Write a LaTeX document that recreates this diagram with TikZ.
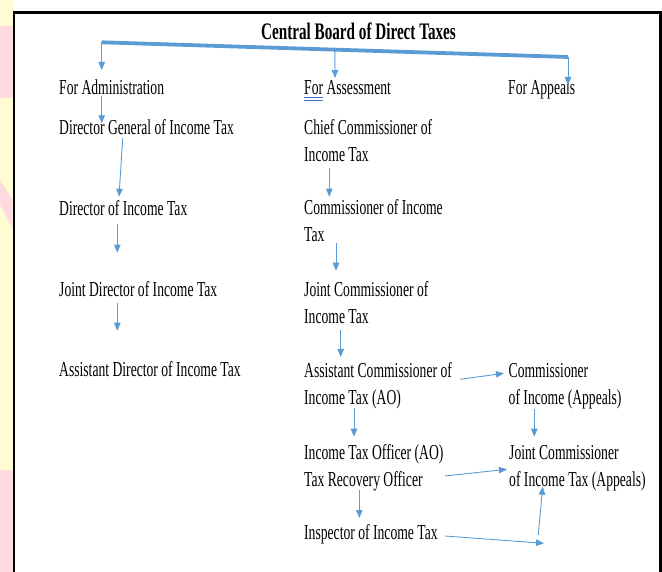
\documentclass[tikz,border=0pt]{standalone}
\usepackage{fontspec}
\newfontfamily\orgfont{Liberation Serif}[FakeStretch=0.64]
\usetikzlibrary{arrows.meta,calc}

\definecolor{linkblue}{HTML}{5B9BD5}
\definecolor{markblue}{HTML}{4472C4}
\definecolor{wmyellow}{HTML}{FFFBD2}
\definecolor{wmpink}{HTML}{FFD9E0}

\begin{document}
\begin{tikzpicture}[x=1pt, y=-1pt,
    >={Triangle[length=8pt,width=6.5pt]},
    post/.style={anchor=base west, inner sep=0pt, align=left,
                 font=\orgfont\fontsize{21.3}{27}\selectfont},
    head/.style={post, font=\orgfont\bfseries\fontsize{23.7}{28}\selectfont},
    link/.style={->, draw=linkblue, line width=0.9pt},
    bar/.style={draw=linkblue, line width=3.8pt}]
    \useasboundingbox (0,0) rectangle (662,572);

    % Page edge, frame
    \fill[wmyellow] (0,0) rectangle (12.7,572);
    \fill[wmpink] (0,26) rectangle (12.7,98);
    \fill[wmpink] (0,180) -- (12.7,200) -- (12.7,227) -- (0,205) -- cycle;
    \fill[wmpink] (0,470) rectangle (12.7,572);
    \draw[line width=2.5pt] (14,572) -- (14,12.3) -- (660.5,12.3) -- (660.5,572);

    % Nodes {title, three branches, posts} -- two-line nodes sit on their last line
    \node [head] (cbdt)   at (261,39.5)  {Central Board of Direct Taxes};
    \node [post] (admin)  at (59,95)     {For Administration};
    \node [post] (assess) at (304,95)    {For Assessment};
    \node [post] (appeal) at (508,95)    {For Appeals};

    \node [post] (dg)     at (59,134.3)  {Director General of Income Tax};
    \node [post] (dit)    at (59,216)    {Director of Income Tax};
    \node [post] (jdit)   at (59,296.5)  {Joint Director of Income Tax};
    \node [post] (adit)   at (59,377)    {Assistant Director of Income Tax};

    \node [post] (ccit)   at (304,161.3) {Chief Commissioner of\\Income Tax};
    \node [post] (cit)    at (304,242)   {Commissioner of Income\\Tax};
    \node [post] (jcit)   at (304,323.7) {Joint Commissioner of\\Income Tax};
    \node [post] (acit)   at (304,404.3) {Assistant Commissioner of\\Income Tax (AO)};
    \node [post] (ito)    at (304,486)   {Income Tax Officer (AO)\\Tax Recovery Officer};
    \node [post] (insp)   at (304,539)   {Inspector of Income Tax};

    \node [post] (cita)   at (508.5,404.3) {Commissioner\\of Income (Appeals)};
    \node [post] (jcita)  at (509,486)     {Joint Commissioner\\of Income Tax (Appeals)};

    % Bar under the title
    \coordinate (barL) at (101.7,42.3);
    \coordinate (barR) at (568,57);
    \draw [bar] (barL) -- (barR);
    \draw [draw=markblue, line width=0.7pt] ($(assess.base west)+(0,2.4)$) -- ++(19,0)
                                            ($(assess.base west)+(0,5)$) -- ++(19,0);

    % Paths
    \draw [link] (barL) -- ($(admin.base west)+(42.7,-25)$);
    \draw [link] ($(barL)!0.5!(barR)$) -- ($(assess.base west)+(31,-17)$);
    \draw [link] (barR) -- ($(appeal.base west)+(60,-10)$);

    \draw [link] ($(admin.base west)+(42.7,1)$)  -- ($(dg.base west)+(42.7,-11)$);
    \draw [link] ($(dg.base west)+(63.7,4)$)     -- ($(dit.base west)+(60,-19.3)$);
    \draw [link] ($(dit.base west)+(58.3,8)$)    -- ($(jdit.base west)+(58.3,-43.8)$);
    \draw [link] ($(jdit.base west)+(58.3,6.2)$) -- ($(adit.base west)+(58.3,-46.3)$);

    \draw [link] ($(ccit.base west)+(25.3,6.7)$) -- ($(cit.base west)+(25.3,-45.3)$);
    \draw [link] ($(cit.base west)+(32,1)$)      -- ($(jcit.base west)+(32,-53)$);
    \draw [link] ($(jcit.base west)+(36.7,6.3)$) -- ($(acit.base west)+(36.7,-47.3)$);
    \draw [link] ($(acit.base west)+(50,3.7)$)   -- ($(ito.base west)+(50,-49.3)$);
    \draw [link] ($(ito.base west)+(55.3,4)$)    -- ($(insp.base west)+(55.3,-21)$);

    \draw [link] ($(acit.base west)+(156,-25)$)  -- ($(cita.base west)+(-4.5,-31)$);
    \draw [link] ($(cita.base west)+(25.8,4.7)$) -- ($(jcita.base west)+(25.3,-49.3)$);
    \draw [link] ($(ito.base west)+(141,-10)$)   -- ($(jcita.base west)+(-2,-16.7)$);
    \draw [link] ($(insp.base west)+(141,-3)$)   -- ($(jcita.base west)+(35,57.3)$);
    \draw [link] ($(jcita.base west)+(29.3,49)$) -- ($(jcita.base west)+(33.7,0.7)$);

\end{tikzpicture}
\end{document}
